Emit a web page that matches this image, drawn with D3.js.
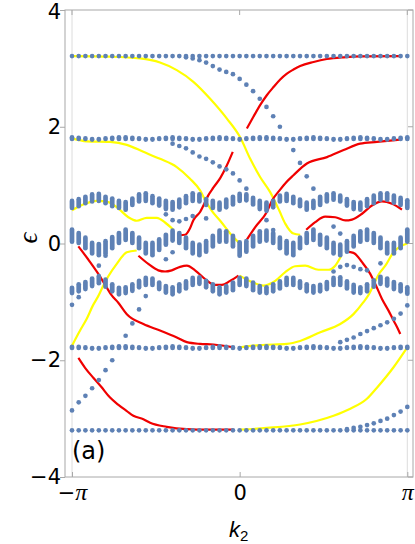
<!DOCTYPE html>
<html>
<head>
<meta charset="utf-8">
<script src="https://cdn.jsdelivr.net/npm/d3@7"></script>
<style>
  html, body { margin: 0; padding: 0; background: #fff; }
</style>
</head>
<body>
<svg id="chart" width="415" height="544"></svg>
<script>
// k2 sampling grid: 51 points from -pi to pi
const kCount = 51
const kGrid = d3.range(kCount).map(i => -Math.PI + (2 * Math.PI * i) / (kCount - 1))

const yTicks = [-4, -2, 0, 2, 4]
const xTicks = [-Math.PI, 0, Math.PI]
const xTickLabels = ['−π', '0', 'π']

// flat rows
const rowTop = [
  3.21, 3.21, 3.21, 3.21, 3.21, 3.21, 3.21, 3.21, 3.21, 3.21,
  3.21, 3.21, 3.21, 3.21, 3.21, 3.21, 3.21, 3.21, 3.21, 3.21,
  3.21, 3.21, 3.21, 3.21, 3.21, 3.21, 3.21, 3.21, 3.21, 3.21,
  3.21, 3.21, 3.21, 3.21, 3.21, 3.21, 3.21, 3.21, 3.21, 3.21,
  3.21, 3.21, 3.21, 3.21, 3.21, 3.21, 3.21, 3.21, 3.21, 3.21,
  3.21]
const rowBottom = [
  -3.2, -3.2, -3.2, -3.2, -3.2, -3.2, -3.2, -3.2, -3.2, -3.2,
  -3.2, -3.2, -3.2, -3.2, -3.2, -3.2, -3.2, -3.2, -3.2, -3.2,
  -3.2, -3.2, -3.2, -3.2, -3.2, -3.2, -3.2, -3.2, -3.2, -3.2,
  -3.2, -3.2, -3.2, -3.2, -3.2, -3.2, -3.2, -3.2, -3.2, -3.2,
  -3.2, -3.2, -3.2, -3.2, -3.2, -3.2, -3.2, -3.2, -3.2, -3.2,
  -3.2]

// bulk bands: top and bottom eigenvalue per k
const row18Hi = [
  1.82, 1.81, 1.80, 1.79, 1.79, 1.80, 1.81, 1.82, 1.82, 1.81,
  1.80, 1.79, 1.79, 1.80, 1.81, 1.82, 1.81, 1.80, 1.79, 1.79,
  1.80, 1.81, 1.82, 1.81, 1.80, 1.79, 1.80, 1.81, 1.82, 1.82,
  1.81, 1.80, 1.79, 1.79, 1.80, 1.81, 1.82, 1.81, 1.80, 1.79,
  1.79, 1.80, 1.81, 1.82, 1.81, 1.80, 1.79, 1.79, 1.80, 1.81,
  1.82]
const row18Lo = [
  1.79, 1.79, 1.79, 1.78, 1.78, 1.79, 1.79, 1.79, 1.79, 1.79,
  1.79, 1.78, 1.78, 1.79, 1.79, 1.79, 1.79, 1.79, 1.78, 1.78,
  1.79, 1.79, 1.79, 1.79, 1.79, 1.78, 1.79, 1.79, 1.79, 1.79,
  1.79, 1.79, 1.78, 1.78, 1.79, 1.79, 1.79, 1.79, 1.79, 1.78,
  1.78, 1.79, 1.79, 1.79, 1.79, 1.79, 1.78, 1.78, 1.79, 1.79,
  1.79]

const band06Hi = [
  0.73, 0.76, 0.80, 0.84, 0.85, 0.80, 0.77, 0.73, 0.71, 0.77,
  0.84, 0.86, 0.81, 0.77, 0.73, 0.71, 0.75, 0.81, 0.86, 0.84,
  0.76, 0.73, 0.70, 0.75, 0.80, 0.85, 0.84, 0.78, 0.73, 0.70,
  0.73, 0.82, 0.85, 0.80, 0.75, 0.70, 0.73, 0.80, 0.84, 0.86,
  0.82, 0.76, 0.71, 0.70, 0.76, 0.82, 0.86, 0.86, 0.82, 0.78,
  0.74]
const band06Lo = [
  0.61, 0.64, 0.69, 0.72, 0.73, 0.69, 0.64, 0.61, 0.58, 0.66,
  0.72, 0.73, 0.69, 0.65, 0.59, 0.58, 0.62, 0.69, 0.73, 0.72,
  0.66, 0.61, 0.58, 0.62, 0.67, 0.73, 0.74, 0.67, 0.59, 0.56,
  0.62, 0.72, 0.73, 0.69, 0.64, 0.58, 0.61, 0.66, 0.72, 0.75,
  0.72, 0.65, 0.59, 0.58, 0.64, 0.69, 0.75, 0.75, 0.70, 0.66,
  0.61]

const band0Hi = [
  0.24, 0.18, 0.10, 0.01, -0.01, 0.04, 0.11, 0.18, 0.24, 0.18,
  0.10, 0.01, 0.01, 0.07, 0.15, 0.22, 0.18, 0.10, 0.01, -0.02,
  0.04, 0.13, 0.22, 0.21, 0.13, 0.02, 0.04, 0.13, 0.21, 0.22,
  0.18, 0.10, 0.04, 0.01, 0.10, 0.18, 0.24, 0.15, 0.10, 0.01,
  -0.02, 0.04, 0.13, 0.21, 0.24, 0.18, 0.10, 0.01, 0.01, 0.10,
  0.24]
const band0Lo = [
  0.03, 0.01, -0.08, -0.17, -0.20, -0.17, -0.08, 0.01, 0.06, 0.01,
  -0.08, -0.17, -0.20, -0.11, -0.02, 0.05, 0.01, -0.08, -0.17, -0.20,
  -0.14, -0.05, 0.03, 0.03, -0.05, -0.21, -0.14, -0.05, 0.03, 0.05,
  0.01, -0.08, -0.17, -0.20, -0.08, 0.01, 0.06, -0.02, -0.08, -0.17,
  -0.20, -0.14, -0.05, 0.03, 0.06, 0.01, -0.08, -0.17, -0.17, -0.08,
  0.03]

const bandM08Hi = [
  -0.76, -0.70, -0.66, -0.60, -0.56, -0.62, -0.70, -0.76, -0.75, -0.70,
  -0.64, -0.59, -0.60, -0.67, -0.73, -0.75, -0.70, -0.65, -0.59, -0.58,
  -0.64, -0.70, -0.75, -0.73, -0.67, -0.59, -0.60, -0.67, -0.73, -0.75,
  -0.70, -0.65, -0.59, -0.59, -0.65, -0.70, -0.73, -0.71, -0.66, -0.59,
  -0.58, -0.65, -0.71, -0.75, -0.70, -0.63, -0.57, -0.60, -0.66, -0.70,
  -0.75]
const bandM08Lo = [
  -0.85, -0.82, -0.78, -0.73, -0.68, -0.74, -0.82, -0.87, -0.85, -0.81,
  -0.75, -0.71, -0.71, -0.78, -0.84, -0.87, -0.82, -0.77, -0.71, -0.69,
  -0.75, -0.82, -0.87, -0.84, -0.80, -0.71, -0.73, -0.80, -0.84, -0.85,
  -0.82, -0.77, -0.71, -0.71, -0.76, -0.82, -0.84, -0.82, -0.78, -0.71,
  -0.71, -0.77, -0.84, -0.85, -0.82, -0.74, -0.69, -0.72, -0.78, -0.82,
  -0.86]

const rowM18Hi = [
  -1.77, -1.77, -1.78, -1.79, -1.79, -1.78, -1.77, -1.76, -1.76, -1.77,
  -1.78, -1.79, -1.79, -1.78, -1.77, -1.76, -1.77, -1.78, -1.79, -1.79,
  -1.78, -1.77, -1.76, -1.77, -1.78, -1.79, -1.78, -1.77, -1.76, -1.76,
  -1.77, -1.78, -1.79, -1.79, -1.78, -1.77, -1.76, -1.77, -1.78, -1.79,
  -1.79, -1.78, -1.77, -1.76, -1.77, -1.78, -1.79, -1.79, -1.78, -1.77,
  -1.77]
const rowM18Lo = [
  -1.79, -1.79, -1.79, -1.80, -1.80, -1.79, -1.79, -1.79, -1.79, -1.79,
  -1.79, -1.80, -1.80, -1.79, -1.79, -1.79, -1.79, -1.79, -1.80, -1.80,
  -1.79, -1.79, -1.79, -1.79, -1.79, -1.80, -1.79, -1.79, -1.79, -1.79,
  -1.79, -1.79, -1.80, -1.80, -1.79, -1.79, -1.79, -1.79, -1.79, -1.80,
  -1.80, -1.79, -1.79, -1.79, -1.79, -1.79, -1.80, -1.80, -1.79, -1.79,
  -1.79]

// in-gap eigenvalues: [k index, energy]
const branchTop = [[17, 3.19], [18, 3.17], [19, 3.14], [20, 3.10], [21, 3.04], [22, 2.98],
  [23, 2.94], [24, 2.90], [25, 2.82], [26, 2.72], [27, 2.61], [28, 2.48], [29, 2.34],
  [30, 2.18], [31, 2.00], [33, 1.60], [34, 1.38], [35, 1.15], [36, 0.94]]
const branchUpperLeft = [[15, 1.71], [16, 1.67], [17, 1.63], [18, 1.56], [19, 1.49], [20, 1.45],
  [21, 1.39], [22, 1.32], [23, 1.27], [24, 1.20], [25, 1.08], [26, 0.94]]
const gapUpper = [[14, 0.50], [15, 0.40], [16, 0.38], [17, 0.42], [18, 0.47], [20, 0.43],
  [29, 0.40], [30, 0.23], [39, 0.29], [40, 0.17]]
const gapLower = [[4, -0.38], [5, -0.21], [14, -0.27], [15, -0.15], [39, -0.48], [40, -0.40],
  [41, -0.37], [42, -0.40], [43, -0.44], [44, -0.46], [46, -0.34]]
const belowBands = [[0, -1.05], [1, -0.92], [8, -1.58], [9, -1.37], [10, -1.13], [11, -0.90],
  [40, -1.69], [41, -1.65], [42, -1.61], [43, -1.55], [44, -1.50], [45, -1.45], [46, -1.40],
  [47, -1.35], [48, -1.29], [49, -1.20], [50, -1.06]]
const lowBranch = [[0, -2.86], [1, -2.72], [2, -2.61], [3, -2.48], [4, -2.34], [5, -2.17], [6, -2.00],
  [41, -3.18], [42, -3.16], [43, -3.14], [44, -3.11], [45, -3.08], [46, -3.04], [47, -3.00],
  [48, -2.94], [49, -2.88], [50, -2.80]]

// edge state curves: [k / pi, energy]
const red1 = [[0.043, 1.97], [0.082, 2.17], [0.122, 2.37], [0.162, 2.54], [0.202, 2.68], [0.242, 2.81],
  [0.282, 2.91], [0.321, 2.98], [0.361, 3.04], [0.441, 3.11], [0.52, 3.16], [0.62, 3.19], [0.72, 3.205], [0.96, 3.21]]
const red2 = [[-0.365, 0.14], [-0.325, 0.15], [-0.296, 0.26], [-0.276, 0.40], [-0.236, 0.54], [-0.206, 0.71],
  [-0.188, 0.82], [-0.156, 0.96], [-0.116, 1.12], [-0.076, 1.34], [-0.041, 1.57]]
const red3 = [[-0.604, -0.21], [-0.545, -0.35], [-0.485, -0.46], [-0.445, -0.48], [-0.405, -0.46],
  [-0.355, -0.40], [-0.315, -0.38], [-0.266, -0.46], [-0.206, -0.61], [-0.146, -0.71], [-0.106, -0.71],
  [-0.057, -0.64], [-0.007, -0.55]]
const red4 = [[0.397, 0.235], [0.451, 0.366], [0.510, 0.46], [0.570, 0.45], [0.630, 0.395], [0.670, 0.41],
  [0.730, 0.51], [0.789, 0.65], [0.849, 0.72], [0.909, 0.68], [0.968, 0.58]]
const red5 = [[0.039, 0.05], [0.093, 0.28], [0.162, 0.54], [0.194, 0.74], [0.238, 0.91], [0.278, 1.05],
  [0.321, 1.17], [0.401, 1.37], [0.521, 1.48], [0.62, 1.60], [0.719, 1.71], [0.819, 1.74], [0.958, 1.78]]
const red6 = [[-0.962, -0.05], [-0.904, -0.27], [-0.843, -0.52], [-0.800, -0.72], [-0.763, -0.89],
  [-0.725, -1.01], [-0.673, -1.21], [-0.574, -1.38], [-0.475, -1.49], [-0.375, -1.61], [-0.315, -1.69],
  [-0.236, -1.72], [-0.156, -1.73], [-0.037, -1.78]]
const red7 = [[-0.962, -1.96], [-0.922, -2.13], [-0.873, -2.30], [-0.827, -2.45], [-0.773, -2.64],
  [-0.725, -2.76], [-0.673, -2.87], [-0.634, -2.95], [-0.574, -3.01], [-0.534, -3.07], [-0.435, -3.14],
  [-0.315, -3.18], [-0.196, -3.19], [-0.037, -3.19]]
const red8 = [[0.636, -0.14], [0.679, -0.16], [0.730, -0.32], [0.779, -0.52], [0.813, -0.72], [0.849, -0.95],
  [0.888, -1.15], [0.918, -1.32], [0.940, -1.44], [0.958, -1.55]]

const yellow1 = [[-1.0, 3.21], [-0.773, 3.20], [-0.594, 3.17], [-0.475, 3.10], [-0.375, 2.97], [-0.276, 2.77],
  [-0.176, 2.48], [-0.076, 2.14], [0.003, 1.82], [0.063, 1.45], [0.122, 1.14], [0.182, 0.88], [0.237, 0.56],
  [0.272, 0.34], [0.321, 0.17], [0.361, 0.15]]
const yellow2 = [[-1.0, 1.80], [-0.912, 1.75], [-0.773, 1.74], [-0.673, 1.69], [-0.574, 1.57], [-0.475, 1.45],
  [-0.375, 1.31], [-0.296, 1.11], [-0.236, 0.91], [-0.201, 0.72], [-0.166, 0.56], [-0.116, 0.39],
  [-0.047, 0.14], [-0.007, 0.02]]
const yellow3 = [[-1.0, 0.57], [-0.922, 0.68], [-0.853, 0.73], [-0.783, 0.71], [-0.724, 0.60], [-0.664, 0.45],
  [-0.614, 0.39], [-0.554, 0.44], [-0.494, 0.44], [-0.445, 0.36], [-0.397, 0.24]]
const yellow4 = [[-1.0, -1.75], [-0.952, -1.49], [-0.912, -1.29], [-0.875, -1.06], [-0.845, -0.91],
  [-0.813, -0.72], [-0.785, -0.57], [-0.733, -0.35], [-0.673, -0.15], [-0.614, -0.12]]
const yellow5 = [[0.0, -0.55], [0.073, -0.66], [0.142, -0.72], [0.212, -0.64], [0.272, -0.49], [0.331, -0.39],
  [0.391, -0.38], [0.470, -0.45], [0.530, -0.45], [0.570, -0.38], [0.606, -0.21]]
const yellow6 = [[0.003, -1.78], [0.122, -1.74], [0.282, -1.72], [0.361, -1.67], [0.481, -1.52], [0.600, -1.38],
  [0.679, -1.21], [0.737, -1.01], [0.773, -0.86], [0.80, -0.70], [0.829, -0.53], [0.869, -0.38],
  [0.918, -0.15], [0.958, -0.05], [1.0, 0.0]]
const yellow7 = [[0.003, -3.19], [0.162, -3.16], [0.361, -3.10], [0.560, -2.95], [0.660, -2.83],
  [0.759, -2.66], [0.819, -2.47], [0.918, -2.12], [1.0, -1.78]]

const redLines = [red1, red2, red3, red4, red5, red6, red7, red8]
const yellowLines = [yellow1, yellow2, yellow3, yellow4, yellow5, yellow6, yellow7]

const dotColor = '#5e81b5'
const dotR = 2.35
const frame = { left: 65, right: 413, top: 10, bottom: 477 }

const svg = d3.select('#chart')
const x = d3.scaleLinear().domain([-Math.PI, Math.PI]).range([72, 407.3])
const y = d3.scaleLinear().domain([-4, 4]).range([frame.bottom, frame.top])

// grid lines at +-pi
svg.append('g').selectAll('line').data([-Math.PI, Math.PI]).join('line')
  .attr('x1', d => x(d)).attr('x2', d => x(d))
  .attr('y1', frame.top).attr('y2', frame.bottom)
  .attr('stroke', '#dcdcdc').attr('stroke-width', 1)

// edge state lines (under the dots)
const line = d3.line()
  .x(d => x(d[0] * Math.PI))
  .y(d => y(d[1]))
  .curve(d3.curveMonotoneX)

svg.append('g').selectAll('path').data(yellowLines).join('path')
  .attr('d', line).attr('fill', 'none')
  .attr('stroke', '#ffff00').attr('stroke-width', 2.2)
svg.append('g').selectAll('path').data(redLines).join('path')
  .attr('d', line).attr('fill', 'none')
  .attr('stroke', '#f00000').attr('stroke-width', 2.2)

// spectrum columns
const columns = (hi, lo) => kGrid.map((k, i) => ({ k, hi: hi[i], lo: lo[i] }))
const bands = [
  columns(rowTop, rowTop),
  columns(row18Hi, row18Lo),
  columns(band06Hi, band06Lo),
  columns(band0Hi, band0Lo),
  columns(bandM08Hi, bandM08Lo),
  columns(rowM18Hi, rowM18Lo),
  columns(rowBottom, rowBottom)
]

const dots = svg.append('g').attr('fill', dotColor)
bands.forEach(band => {
  dots.append('g').selectAll('rect').data(band).join('rect')
    .attr('x', d => x(d.k) - dotR)
    .attr('y', d => y(d.hi) - dotR)
    .attr('width', dotR * 2)
    .attr('height', d => y(d.lo) - y(d.hi) + dotR * 2)
    .attr('rx', dotR)
})

const gapDots = [branchTop, branchUpperLeft, gapUpper, gapLower, belowBands, lowBranch].flat()
dots.append('g').selectAll('circle').data(gapDots).join('circle')
  .attr('cx', d => x(kGrid[d[0]]))
  .attr('cy', d => y(d[1]))
  .attr('r', dotR)

// frame
svg.append('rect')
  .attr('x', frame.left).attr('y', frame.top)
  .attr('width', frame.right - frame.left).attr('height', frame.bottom - frame.top)
  .attr('fill', 'none').attr('stroke', '#a8a8a8').attr('stroke-width', 1)

// axes
const fontFamily = '"DejaVu Sans", sans-serif'

const yAxis = svg.append('g')
  .attr('transform', `translate(${frame.left},0)`)
  .call(d3.axisLeft(y).tickValues(yTicks).tickSizeInner(5).tickSizeOuter(0).tickPadding(-1)
    .tickFormat(d => d < 0 ? '−' + Math.abs(d) : String(d)))
yAxis.select('.domain').remove()
yAxis.selectAll('line').attr('stroke', '#a8a8a8')
yAxis.selectAll('text').attr('font-family', fontFamily).attr('font-size', 21).attr('fill', '#000')
  .attr('dy', d => d === 4 ? '0.42em' : '0.32em')

const xAxis = svg.append('g')
  .attr('transform', `translate(0,${frame.bottom})`)
  .call(d3.axisBottom(x).tickValues(xTicks).tickSizeInner(-5).tickSizeOuter(0).tickPadding(8)
    .tickFormat((d, i) => xTickLabels[i]))
xAxis.select('.domain').remove()
xAxis.selectAll('line').attr('stroke', '#a8a8a8')
xAxis.selectAll('text').each(function (d, i) {
  const t = d3.select(this).text('')
    .attr('font-family', fontFamily).attr('font-size', 21).attr('fill', '#000')
  const label = xTickLabels[i]
  if (label.endsWith('π')) {
    if (label.length > 1) t.append('tspan').text('−')
    t.append('tspan').attr('font-family', '"Liberation Serif", serif')
      .attr('font-style', 'italic').attr('font-size', 24).text('π')
  } else {
    t.append('tspan').text(label)
  }
})

// inner ticks on top and right sides
svg.append('g').selectAll('line').data(xTicks).join('line')
  .attr('x1', d => x(d)).attr('x2', d => x(d))
  .attr('y1', frame.top).attr('y2', frame.top + 5)
  .attr('stroke', '#a8a8a8')
svg.append('g').selectAll('line').data(yTicks).join('line')
  .attr('x1', frame.right).attr('x2', frame.right - 5)
  .attr('y1', d => y(d)).attr('y2', d => y(d))
  .attr('stroke', '#a8a8a8')

// axis labels
const kLabel = svg.append('text')
  .attr('x', 229).attr('y', 537)
  .attr('font-family', '"Liberation Sans", sans-serif').attr('font-size', 22).attr('fill', '#000')
kLabel.append('tspan').attr('font-style', 'italic').text('k')
kLabel.append('tspan').attr('font-size', 15).attr('dy', 4).text('2')

svg.append('text')
  .attr('transform', 'translate(37,238) rotate(-90)')
  .attr('text-anchor', 'middle')
  .attr('font-family', '"Liberation Serif", serif').attr('font-style', 'italic')
  .attr('font-size', 27).attr('fill', '#000')
  .text('ϵ')

svg.append('text')
  .attr('x', 72).attr('y', 459)
  .attr('font-family', fontFamily).attr('font-size', 24).attr('fill', '#000')
  .text('(a)')
</script>
</body>
</html>
